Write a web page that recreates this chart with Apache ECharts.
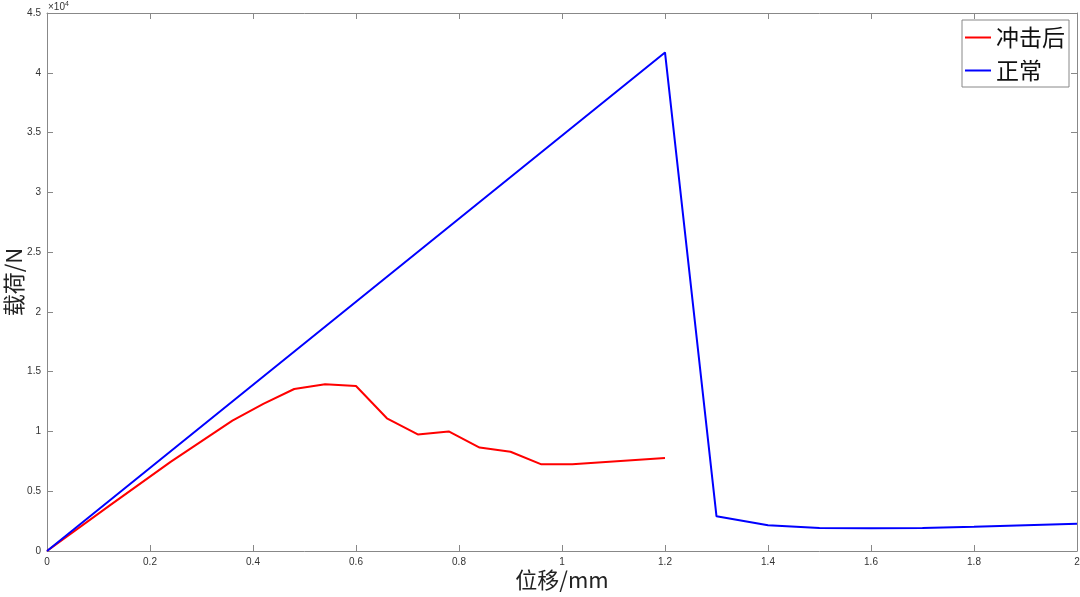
<!DOCTYPE html>
<html>
<head>
<meta charset="utf-8">
<script src="https://cdn.jsdelivr.net/npm/echarts@6/dist/echarts.min.js"></script>
<style>html,body{margin:0;padding:0;background:#fff}#c{width:1080px;height:597px}</style>
</head>
<body>
<div id="c"></div>
<script>
var impactX = [0, 0.12, 0.24, 0.36, 0.42, 0.48, 0.54, 0.60, 0.66, 0.72, 0.78, 0.84, 0.90, 0.96, 1.02, 1.2];
var impactY = [0, 3750, 7450, 10900, 12300, 13550, 13950, 13800, 11100, 9750, 10000, 8650, 8300, 7250, 7250, 7780];
var normalX = [0, 1.2, 1.3, 1.4, 1.5, 1.6, 1.7, 1.8, 1.9, 2.0];
var normalY = [0, 41700, 2900, 2150, 1920, 1900, 1930, 2030, 2150, 2280];
var seriesNames = ['冲击后', '正常'];
var xTicks = [0, 0.2, 0.4, 0.6, 0.8, 1, 1.2, 1.4, 1.6, 1.8, 2];
var yTicks = [0, 0.5, 1, 1.5, 2, 2.5, 3, 3.5, 4, 4.5];

function pairs(xs, ys) { return xs.map(function (x, i) { return [x, ys[i]]; }); }

var chart = echarts.init(document.getElementById('c'), null, {renderer: 'canvas'});
var axisCol = '#888';
var labelCol = '#333';
var baseX = {
  type: 'value', min: 0, max: 2, interval: 0.2,
  axisLine: {show: true, onZero: false, lineStyle: {color: axisCol, width: 1}},
  axisTick: {show: true, inside: true, length: 6, lineStyle: {color: axisCol}},
  splitLine: {show: false}
};
var baseY = {
  type: 'value', min: 0, max: 45000, interval: 5000,
  axisLine: {show: true, onZero: false, lineStyle: {color: axisCol, width: 1}},
  axisTick: {show: true, inside: true, length: 6, lineStyle: {color: axisCol}},
  splitLine: {show: false}
};
chart.setOption({
  animation: false,
  backgroundColor: '#fff',
  grid: {left: 47, right: 3, top: 13, bottom: 46, containLabel: false, outerBoundsMode: 'none'},
  legend: {
    data: seriesNames,
    orient: 'vertical', right: 11, top: 20,
    backgroundColor: '#fff',
    borderColor: '#888', borderWidth: 1, borderRadius: 0,
    padding: [6, 4, 5, 3],
    itemGap: 10,
    icon: 'rect', itemWidth: 26, itemHeight: 2,
    textStyle: {fontFamily: 'Noto Sans CJK SC', fontSize: 23, color: '#111'}
  },
  xAxis: [
    Object.assign({}, baseX, {
      position: 'bottom',
      name: '位移/mm', nameLocation: 'middle', nameGap: 18, nameMoveOverlap: false,
      nameTextStyle: {fontFamily: 'Noto Sans CJK SC', fontSize: 22, color: '#222'},
      axisLabel: {show: true, color: labelCol, fontSize: 10, fontFamily: 'Liberation Sans', margin: 6,
        formatter: function (v) { return String(Math.round(v * 10) / 10); }}
    }),
    Object.assign({}, baseX, {position: 'top', axisLabel: {show: false}})
  ],
  yAxis: [
    Object.assign({}, baseY, {
      position: 'left',
      name: '载荷/N', nameLocation: 'middle', nameGap: 22, nameMoveOverlap: false,
      nameTextStyle: {fontFamily: 'Noto Sans CJK SC', fontSize: 22, color: '#222'},
      axisLabel: {show: true, color: labelCol, fontSize: 10, fontFamily: 'Liberation Sans', margin: 6,
        formatter: function (v) { return String(Math.round(v / 1000) / 10); }}
    }),
    Object.assign({}, baseY, {position: 'right', axisLabel: {show: false}})
  ],
  graphic: [{
    type: 'text', left: 48, top: 1,
    style: {
      text: '×10{s|4}',
      rich: {s: {fontSize: 7, verticalAlign: 'top', fill: labelCol, padding: [0, 0, 5, 0]}},
      fontSize: 10, fontFamily: 'Liberation Sans', fill: labelCol
    }
  }],
  series: [
    {name: seriesNames[0], type: 'line', data: pairs(impactX, impactY), xAxisIndex: 0, yAxisIndex: 0,
      showSymbol: false, symbol: 'none', lineStyle: {color: '#ff0000', width: 2}, itemStyle: {color: '#ff0000'}},
    {name: seriesNames[1], type: 'line', data: pairs(normalX, normalY), xAxisIndex: 0, yAxisIndex: 0,
      showSymbol: false, symbol: 'none', lineStyle: {color: '#0000ff', width: 2}, itemStyle: {color: '#0000ff'}}
  ]
});
</script>
</body>
</html>
